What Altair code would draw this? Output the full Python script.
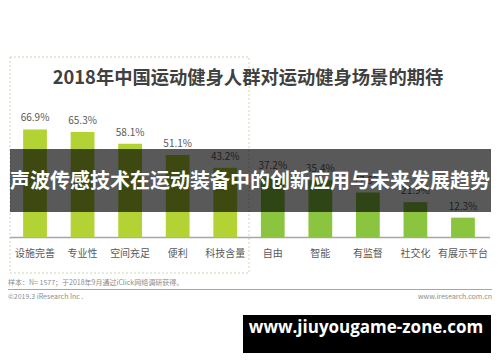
import altair as alt
import pandas as pd

categories = ["设施完善", "专业性", "空间充足", "便利", "科技含量", "自由", "智能", "有监督", "社交化", "有展示平台"]
values = [66.9, 65.3, 58.1, 51.1, 43.2, 37.2, 35.4, 27.9, 21.9, 12.3]
groups = ["a", "a", "a", "a", "a", "b", "b", "b", "b", "b"]

title_text = "2018年中国运动健身人群对运动健身场景的期待"
banner_text = "声波传感技术在运动装备中的创新应用与未来发展趋势"
note_text = "样本：N= 1577；于2018年9月通过iClick网络调研获得。"
copy_text = "©2019.3 iResearch Inc ."
site_text = "www.iresearch.com.cn"
mark_text = "www.jiuyougame-zone.com"

df = pd.DataFrame({
    "cat": categories,
    "value": values,
    "group": groups,
    "label": [f"{v:.1f}%" for v in values],
})

FONT = "Noto Sans CJK SC"

xs = alt.X("cat:N", sort=categories, axis=None,
           scale=alt.Scale(range=[3.25, 478.75], paddingInner=0.5, paddingOuter=0.25))
ys = alt.Y("value:Q", axis=None, scale=alt.Scale(domain=[0, 100], range=[229.5, 68]))

def one(text):
    return alt.Chart(pd.DataFrame({"t": [text]}))

frame = one("f").mark_rect(fill=None, stroke="#c9d9b4", strokeDash=[2, 2], strokeWidth=1).encode(
    x=alt.value(2), x2=alt.value(241), y=alt.value(49), y2=alt.value(265))

base_rule = one("r").mark_rule(color="#a6a6a6", strokeWidth=1.5).encode(
    x=alt.value(2), x2=alt.value(482), y=alt.value(229.5))

bars = alt.Chart(df).mark_bar().encode(
    x=xs, y=ys,
    color=alt.Color("group:N", scale=alt.Scale(domain=["a", "b"], range=["#b3d233", "#8bc540"]), legend=None),
)

vlabels = alt.Chart(df).mark_text(font=FONT, fontSize=10, color="#595959", dy=-11).encode(
    x=xs, y=ys, text="label:N")

clabels = alt.Chart(df).mark_text(font=FONT, fontSize=10, color="#595959").encode(
    x=xs, y=alt.value(246), text="cat:N")

title = one(title_text).mark_text(font=FONT, fontSize=18.3, fontWeight="bold", color="#404040").encode(
    x=alt.value(240), y=alt.value(71), text="t:N")

note = one(note_text).mark_text(font=FONT, fontSize=7, color="#8c8c8c", align="left").encode(
    x=alt.value(0), y=alt.value(274.7), text="t:N")

foot_rule = one("r").mark_rule(color="#a6a6a6", strokeWidth=1).encode(
    x=alt.value(0), x2=alt.value(484), y=alt.value(281.5))

copy = one(copy_text).mark_text(font=FONT, fontSize=7, color="#8c8c8c", align="left").encode(
    x=alt.value(0), y=alt.value(288.5), text="t:N")

site = one(site_text).mark_text(font=FONT, fontSize=7, color="#8c8c8c", align="right").encode(
    x=alt.value(484), y=alt.value(288.5), text="t:N")

banner = one("b").mark_rect(color="black", opacity=0.65).encode(
    x=alt.value(2), x2=alt.value(483), y=alt.value(141), y2=alt.value(204))

banner_t = one(banner_text).mark_text(font=FONT, fontSize=20, fontWeight="bold", color="white").encode(
    x=alt.value(242), y=alt.value(174), text="t:N")

wm = one("w").mark_rect(color="black").encode(
    x=alt.value(235), x2=alt.value(483), y=alt.value(307), y2=alt.value(345))

wm_t = one(mark_text).mark_text(font="Open Sans", fontSize=17, fontWeight="bold", color="white").encode(
    x=alt.value(358), y=alt.value(320), text="t:N")

chart = alt.layer(
    frame, base_rule, bars, vlabels, clabels, title, note, foot_rule, copy, site,
    banner, banner_t, wm, wm_t
).properties(
    width=484, height=346, autosize=alt.AutoSizeParams(type="none"), padding=0,
    background="white"
).configure_view(stroke=None)

chart.save("out.html", embed_options={"renderer": "svg", "actions": False})
